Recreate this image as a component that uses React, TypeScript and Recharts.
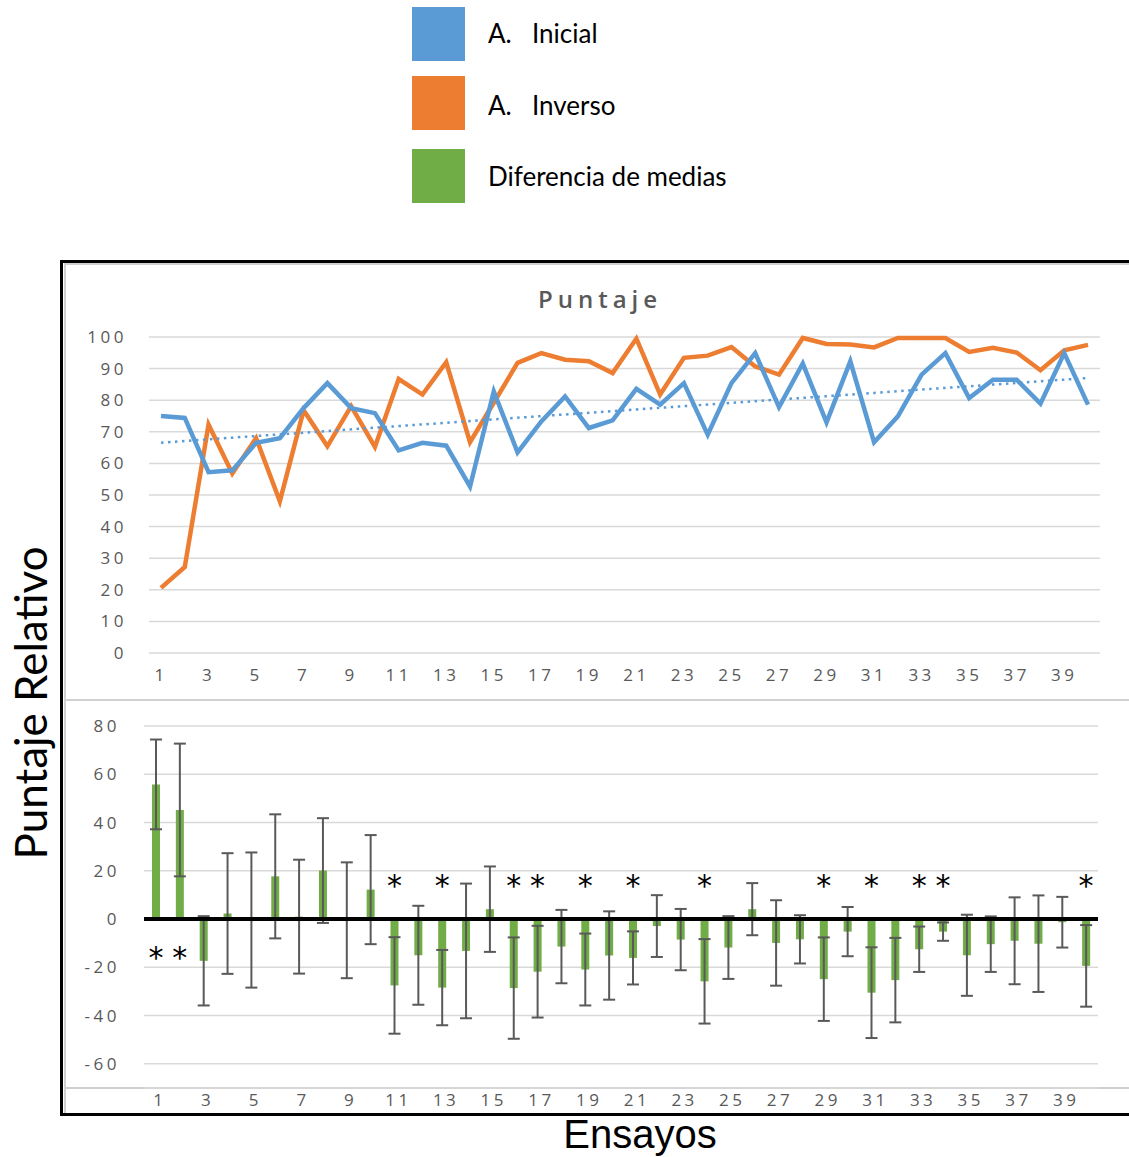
import React from 'react';
import {
  LineChart,
  Line,
  ComposedChart,
  Bar,
  ErrorBar,
  Scatter,
  XAxis,
  YAxis,
  CartesianGrid,
  ReferenceLine
} from 'recharts';

// Trials 1..40
const ENSAYOS = [
  '1', '2', '3', '4', '5', '6', '7', '8', '9', '10',
  '11', '12', '13', '14', '15', '16', '17', '18', '19', '20',
  '21', '22', '23', '24', '25', '26', '27', '28', '29', '30',
  '31', '32', '33', '34', '35', '36', '37', '38', '39', '40'
];

const INICIAL = [
  75.0, 74.4, 57.2, 57.8, 66.5, 68.0, 77.5, 85.4, 77.5, 75.9,
  64.1, 66.5, 65.6, 52.7, 82.8, 63.5, 73.3, 81.2, 71.2, 73.6,
  83.6, 78.6, 85.4, 69.1, 85.4, 94.9, 77.8, 91.6, 73.0, 92.3,
  66.7, 74.9, 88.1, 94.9, 80.7, 86.5, 86.5, 78.9, 94.9, 78.6
];

const INVERSO = [
  20.6, 27.2, 72.3, 56.8, 68.0, 48.0, 76.8, 65.4, 78.1, 65.2,
  86.7, 81.8, 92.0, 66.7, 79.2, 91.8, 94.9, 92.8, 92.3, 88.6,
  99.5, 81.8, 93.4, 94.1, 96.8, 90.7, 88.1, 99.7, 97.8, 97.6,
  96.7, 99.7, 99.7, 99.7, 95.3, 96.6, 95.1, 89.5, 95.8, 97.5
];

// Diferencia de medias and its error (± value)
const DIFERENCIA = [
  55.8, 45.2, -17.3, 2.3, -0.4, 17.7, 1.0, 20.1, -0.5, 12.2,
  -27.5, -15.0, -28.4, -13.2, 4.1, -28.6, -21.8, -11.4, -20.9, -15.1,
  -16.1, -2.9, -8.5, -25.8, -11.8, 4.1, -9.9, -8.4, -24.9, -5.2,
  -30.5, -25.3, -12.5, -5.2, -15.0, -10.4, -9.0, -10.2, -1.3, -19.4
];

const ERROR = [
  18.6, 27.5, 18.5, 25.0, 28.0, 25.7, 23.6, 21.7, 24.0, 22.6,
  20.0, 20.5, 15.6, 27.9, 17.7, 21.0, 19.0, 15.2, 14.9, 18.3,
  11.0, 12.8, 12.7, 17.5, 13.0, 10.8, 17.7, 10.0, 17.3, 10.2,
  18.8, 17.5, 9.4, 3.8, 16.8, 11.5, 18.0, 20.0, 10.5, 16.9
];

// trials marked with an asterisk
const SIGNIFICATIVOS = [1, 2, 11, 13, 16, 17, 19, 21, 24, 29, 31, 33, 34, 40];

const Y_TICKS_TOP = [0, 10, 20, 30, 40, 50, 60, 70, 80, 90, 100];
const Y_TICKS_BOTTOM = [-60, -40, -20, 0, 20, 40, 60, 80];

const COLORS = {
  blue: '#5B9BD5',
  orange: '#ED7D31',
  green: '#70AD47',
  grid: '#D9D9D9',
  text: '#595959',
  error: '#595959'
};

// least-squares trend of the Inicial series
const trend = (() => {
  const n = INICIAL.length;
  const xs = INICIAL.map((_, i) => i + 1);
  const mx = xs.reduce((a, b) => a + b, 0) / n;
  const my = INICIAL.reduce((a, b) => a + b, 0) / n;
  let num = 0;
  let den = 0;
  xs.forEach((x, i) => {
    num += (x - mx) * (INICIAL[i] - my);
    den += (x - mx) * (x - mx);
  });
  const slope = num / den;
  return xs.map(x => my + slope * (x - mx));
})();

const lineData = ENSAYOS.map((e, i) => ({
  ensayo: e,
  inicial: INICIAL[i],
  inverso: INVERSO[i],
  tendencia: trend[i]
}));

const barData = ENSAYOS.map((e, i) => ({
  ensayo: e,
  diferencia: DIFERENCIA[i],
  error: ERROR[i],
  // asterisk sits on the opposite side of the zero line from the bar
  marca: SIGNIFICATIVOS.includes(i + 1) ? (DIFERENCIA[i] > 0 ? -15 : 15) : null
}));

const tickStyle = {
  fill: COLORS.text,
  fontSize: 17,
  fontFamily: 'Open Sans',
  letterSpacing: 3.5
};

const Asterisco = (props: any) => {
  const { cx, cy } = props;
  if (cx == null || cy == null) return null;
  return (
    <text
      x={cx}
      y={cy + 13}
      textAnchor="middle"
      fontSize={30}
      fontFamily="DejaVu Sans"
      fill="#000"
    >
      *
    </text>
  );
};

const legendItems = [
  { color: COLORS.blue, top: 7, textY: 33, label: 'Inicial', prefix: 'A.' },
  { color: COLORS.orange, top: 76, textY: 105, label: 'Inverso', prefix: 'A.' },
  { color: COLORS.green, top: 149, textY: 176, label: 'Diferencia de medias', prefix: '' }
];

const legendText = (left: number, centerY: number): React.CSSProperties => ({
  position: 'absolute',
  left,
  top: centerY - 15,
  height: 30,
  lineHeight: '30px',
  fontSize: 26,
  color: '#000',
  whiteSpace: 'nowrap'
});

const App: React.FC = () => {
  return (
    <div
      style={{
        position: 'absolute',
        left: 0,
        top: 0,
        width: 1129,
        height: 1157,
        background: '#fff',
        overflow: 'hidden',
        fontFamily: 'Lato'
      }}
    >
      {/* legend */}
      {legendItems.map(item => (
        <React.Fragment key={item.label}>
          <div
            style={{
              position: 'absolute',
              left: 412,
              top: item.top,
              width: 53,
              height: 54,
              background: item.color
            }}
          />
          {item.prefix ? (
            <>
              <div style={legendText(488, item.textY)}>{item.prefix}</div>
              <div style={legendText(532, item.textY)}>{item.label}</div>
            </>
          ) : (
            <div style={legendText(488, item.textY)}>{item.label}</div>
          )}
        </React.Fragment>
      ))}

      {/* outer frame */}
      <div
        style={{
          position: 'absolute',
          left: 60,
          top: 260,
          width: 1100,
          height: 856,
          boxSizing: 'border-box',
          borderLeft: '3px solid #000',
          borderTop: '3px solid #000',
          borderBottom: '3px solid #000'
        }}
      />
      <div style={{ position: 'absolute', left: 64, top: 263, width: 2, height: 850, background: '#D0D0D0' }} />
      <div style={{ position: 'absolute', left: 64, top: 263, width: 1070, height: 2, background: '#D0D0D0' }} />
      <div style={{ position: 'absolute', left: 64, top: 699, width: 1070, height: 2, background: '#D0D0D0' }} />
      <div style={{ position: 'absolute', left: 64, top: 1087, width: 1070, height: 2, background: '#D0D0D0' }} />

      {/* chart title */}
      <div
        style={{
          position: 'absolute',
          left: 500,
          width: 200,
          top: 282,
          textAlign: 'center',
          fontFamily: 'Open Sans',
          fontSize: 24,
          fontWeight: 600,
          letterSpacing: 5,
          color: COLORS.text
        }}
      >
        Puntaje
      </div>

      {/* Puntaje lines */}
      <div style={{ position: 'absolute', left: 65, top: 264 }}>
        <LineChart
          width={1064}
          height={436}
          data={lineData}
          margin={{ top: 73, right: 29, left: 0, bottom: 0 }}
        >
          <CartesianGrid vertical={false} stroke={COLORS.grid} strokeWidth={1.5} />
          <XAxis
            dataKey="ensayo"
            interval={1}
            padding={{ left: 12, right: 12 }}
            axisLine={false}
            tickLine={false}
            tickSize={0}
            tickMargin={16}
            height={47}
            tick={tickStyle}
          />
          <YAxis
            domain={[0, 100]}
            ticks={Y_TICKS_TOP}
            interval={0}
            axisLine={false}
            tickLine={false}
            tickSize={0}
            tickMargin={22}
            width={84}
            tick={tickStyle}
          />
          <Line
            type="linear"
            dataKey="inverso"
            stroke={COLORS.orange}
            strokeWidth={4.5}
            dot={false}
            isAnimationActive={false}
          />
          <Line
            type="linear"
            dataKey="inicial"
            stroke={COLORS.blue}
            strokeWidth={4.5}
            dot={false}
            isAnimationActive={false}
          />
          <Line
            type="linear"
            dataKey="tendencia"
            stroke={COLORS.blue}
            strokeWidth={2.5}
            strokeDasharray="2.5 4.5"
            dot={false}
            isAnimationActive={false}
          />
        </LineChart>
      </div>

      {/* Diferencia de medias bars */}
      <div style={{ position: 'absolute', left: 65, top: 700 }}>
        <ComposedChart
          width={1064}
          height={414}
          data={barData}
          margin={{ top: 26, right: 31, left: 0, bottom: 0 }}
          barCategoryGap={0}
        >
          <CartesianGrid vertical={false} stroke={COLORS.grid} strokeWidth={1.5} />
          <XAxis
            dataKey="ensayo"
            interval={1}
            axisLine={false}
            tickLine={false}
            tickSize={0}
            tickMargin={6}
            height={26}
            tick={{ ...tickStyle, dx: 4 }}
          />
          <YAxis
            domain={[-70, 80]}
            ticks={Y_TICKS_BOTTOM}
            interval={0}
            axisLine={false}
            tickLine={false}
            tickSize={0}
            tickMargin={24}
            width={79}
            tick={tickStyle}
          />
          <Bar dataKey="diferencia" fill={COLORS.green} barSize={8} isAnimationActive={false}>
            <ErrorBar
              dataKey="error"
              direction="y"
              width={6}
              stroke={COLORS.error}
              strokeWidth={2}
              isAnimationActive={false}
            />
          </Bar>
          <ReferenceLine y={0} stroke="#000" strokeWidth={4} />
          <Scatter dataKey="marca" shape={Asterisco} isAnimationActive={false} />
        </ComposedChart>
      </div>

      {/* axis titles */}
      <div
        style={{
          position: 'absolute',
          left: 30,
          top: 703,
          transform: 'translate(-50%, -50%) rotate(-90deg)',
          whiteSpace: 'nowrap',
          fontSize: 44,
          lineHeight: '46px',
          color: '#000'
        }}
      >
        Puntaje Relativo
      </div>
      <div
        style={{
          position: 'absolute',
          left: 490,
          width: 300,
          top: 1112,
          height: 44,
          lineHeight: '44px',
          textAlign: 'center',
          fontFamily: 'Liberation Sans',
          fontSize: 40,
          color: '#000'
        }}
      >
        Ensayos
      </div>
    </div>
  );
};

export default App;
